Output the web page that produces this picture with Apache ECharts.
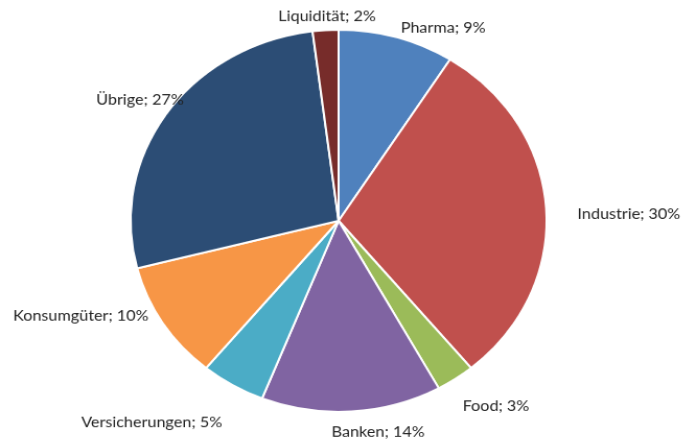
<!DOCTYPE html>
<html><head><meta charset="utf-8">
<script src="https://cdn.jsdelivr.net/npm/echarts@6/dist/echarts.min.js"></script>
<style>html,body{margin:0;padding:0;background:#fff;overflow:hidden}
#wrap{width:697px;height:441px;overflow:hidden;position:relative}
#c{width:667px;height:459px;transform:scale(1.045,0.96);transform-origin:0 0;position:absolute;left:0;top:0}</style>
</head><body><div id="wrap"><div id="c"></div></div>
<script>
const categories = ['Pharma','Industrie','Food','Banken','Versicherungen','Konsumgüter','Übrige','Liquidität'];
const values = [9,30,3,14,5,10,27,2];
const colors = ['#4F81BD','#C0504D','#9BBB59','#8064A2','#4BACC6','#F79646','#2C4D75','#772C2A'];
// label nudges (layout only, px in chart space)
const labelNudge = [[-5,4],[11,6],[-6,17],[-25,7],[2,27],[3,-15],[33,-6],[54,0]];

const chart = echarts.init(document.getElementById('c'), null, {renderer:'canvas'});
chart.setOption({
  animation:false,
  series:[{
    type:'pie',
    center:[324,230],
    radius:[0,199],
    startAngle:90,
    clockwise:true,
    data: categories.map((n,i)=>({name:n,value:values[i],itemStyle:{color:colors[i]}})),
    itemStyle:{borderColor:'#fff',borderWidth:2},
    label:{show:true,position:'outside',formatter:p=>p.name+'; '+p.value+'%',
      fontFamily:'Lato',fontSize:15.5,color:'#222',overflow:'none'},
    labelLine:{show:false,length:14,length2:0},
    labelLayout:p=>({dx:labelNudge[p.dataIndex][0],dy:labelNudge[p.dataIndex][1]}),
    emphasis:{disabled:true}
  }]
});
</script></body></html>
